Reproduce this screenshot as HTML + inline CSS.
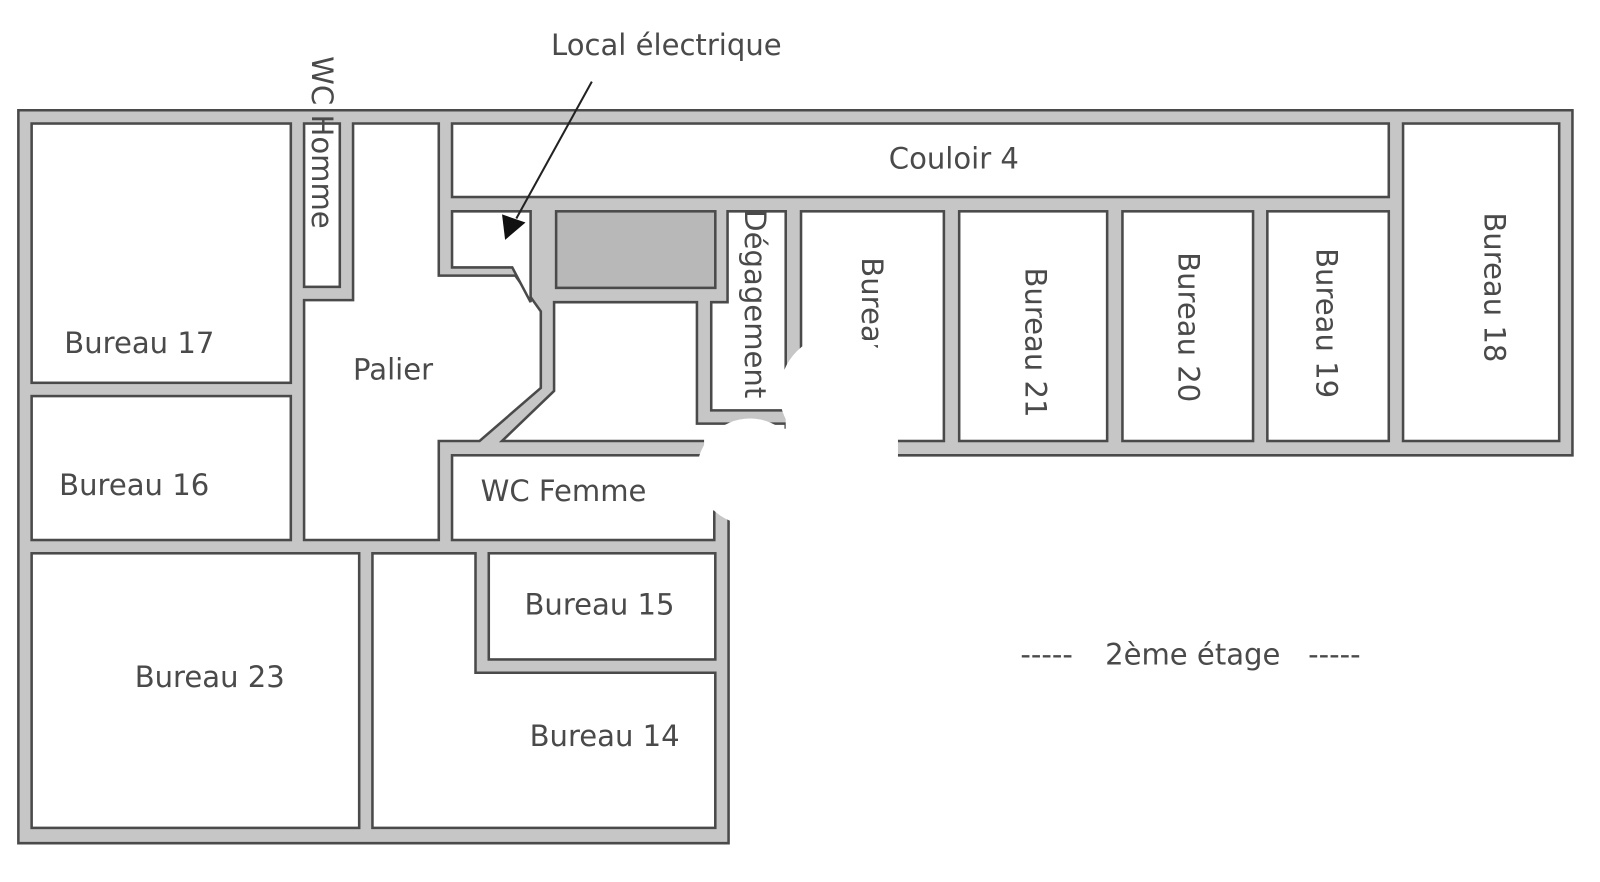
<!DOCTYPE html>
<html><head><meta charset="utf-8"><style>
html,body{margin:0;padding:0;background:#fff;width:1600px;height:882px;overflow:hidden}
svg text{font-family:"DejaVu Sans","Liberation Sans",sans-serif;fill:#4a4a4a;font-size:28.5px}
</style></head><body>
<svg width="1600" height="882" viewBox="0 0 1568 864" preserveAspectRatio="none" xmlns="http://www.w3.org/2000/svg">
<g stroke="#4a4a4a" stroke-width="2.5" stroke-linejoin="miter">
<polygon points="18,108 1541,108 1541,446 773,446 773,418 714,418 714,826 18,826" fill="#c6c6c6"/>
<g fill="#fff">
<rect x="31" y="121" width="254" height="254"/>
<rect x="31" y="388" width="254" height="141"/>
<rect x="31" y="542" width="321" height="269"/>
<polygon points="365,542 466,542 466,659 701,659 701,811 365,811"/>
<rect x="479" y="542" width="222" height="104"/>
<rect x="298" y="121" width="35" height="160"/>
<polygon points="346,121 430,121 430,270 505,270 530,305 530,380 470,432 430,432 430,529 298,529 298,294 346,294"/>
<polygon points="443,207 520,207 520,296 502,262 443,262"/>
<polygon points="543,296 683,296 683,415 770,415 770,432 492,432 543,383"/>
<polygon points="713,207 770,207 770,402 697,402 697,296 713,296"/>
<rect x="443" y="446" width="257" height="83"/>
<rect x="443" y="121" width="918" height="72"/>
<rect x="785" y="207" width="140" height="225"/>
<rect x="940" y="207" width="145" height="225"/>
<rect x="1100" y="207" width="128" height="225"/>
<rect x="1242" y="207" width="119" height="225"/>
<rect x="1375" y="121" width="153" height="311"/>
</g>
<rect x="545" y="207" width="156" height="75" fill="#b8b8b8"/>
</g>
<text x="63" y="346">Bureau 17</text>
<text x="58" y="485">Bureau 16</text>
<text x="132" y="673">Bureau 23</text>
<text x="514" y="602">Bureau 15</text>
<text x="519" y="731">Bureau 14</text>
<text x="346" y="372">Palier</text>
<text x="471" y="491">WC Femme</text>
<text x="871" y="165">Couloir 4</text>
<text x="540" y="54">Local électrique</text>
<text x="1000" y="651">-----</text>
<text x="1083" y="651">2ème étage</text>
<text x="1282" y="651">-----</text>
<text transform="translate(306,55) rotate(90)">WC Homme</text>
<text transform="translate(730,205) rotate(90)">Dégagement</text>
<text transform="translate(845,252) rotate(90)">Bureau 22</text>
<text transform="translate(1005,262) rotate(90)">Bureau 21</text>
<text transform="translate(1155,247) rotate(90)">Bureau 20</text>
<text transform="translate(1290,243) rotate(90)">Bureau 19</text>
<text transform="translate(1455,208) rotate(90)">Bureau 18</text>
<line x1="580" y1="80" x2="506" y2="214" stroke="#222" stroke-width="2"/>
<polygon points="495,235 492,210 515,218" fill="#111"/>
<g fill="#fff">
<circle cx="822" cy="385" r="58"/>
<rect x="770" y="380" width="110" height="70"/>
<circle cx="735" cy="462" r="52"/>
<rect x="690" y="420" width="90" height="80"/>
</g>
</svg>
</body></html>
